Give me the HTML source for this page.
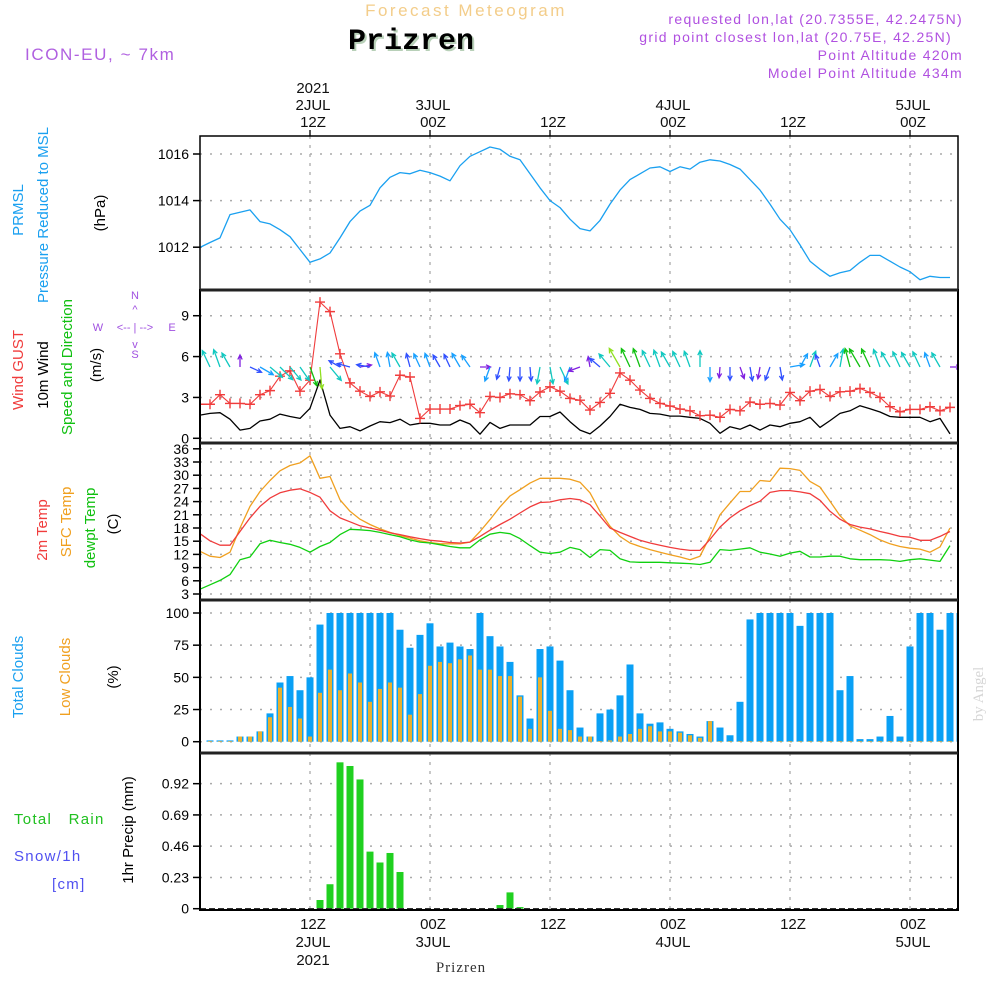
<!DOCTYPE html>
<html><head><meta charset="utf-8"><style>
body{margin:0;background:#fff}
svg{display:block}
text{font-family:"Liberation Sans",sans-serif}
</style></head><body>
<svg id="chart" xmlns="http://www.w3.org/2000/svg" width="1000" height="1000" viewBox="0 0 1000 1000">
<rect width="1000" height="1000" fill="#fff"/>
<text x="466" y="16" text-anchor="middle" font-size="17" fill="#f3cd8a" letter-spacing="2.5">Forecast Meteogram</text>
<text x="413" y="51" text-anchor="middle" font-size="30" font-weight="bold" style="font-family:'Liberation Mono',monospace" fill="#b8d0b8">Prizren</text>
<text x="411" y="49" text-anchor="middle" font-size="30" font-weight="bold" style="font-family:'Liberation Mono',monospace" fill="#000">Prizren</text>
<text x="25" y="60" font-size="17" fill="#b060e0" letter-spacing="1.6">ICON-EU, ~ 7km</text>
<g font-size="14" fill="#b050e0" text-anchor="end" letter-spacing="1.3">
<text x="963" y="24">requested lon,lat (20.7355E, 42.2475N)</text>
<text x="952" y="42">grid point closest lon,lat (20.75E, 42.25N)</text>
<text x="963" y="60">Point Altitude 420m</text>
<text x="963" y="78">Model Point Altitude 434m</text>
</g>
<text transform="translate(983,694) rotate(-90)" text-anchor="middle" font-size="15" style="font-family:'Liberation Serif',serif" fill="#d6d6d6">by Angel</text>
<text x="461" y="972" text-anchor="middle" font-size="15" style="font-family:'Liberation Serif',serif" fill="#333" letter-spacing="1">Prizren</text>
<g id="g"></g>
<g font-size="15" text-anchor="middle">
<text transform="translate(23,210) rotate(-90)" fill="#1aa0f0">PRMSL</text>
<text transform="translate(48,215) rotate(-90)" fill="#1aa0f0">Pressure Reduced to MSL</text>
<text transform="translate(105,213) rotate(-90)" fill="#000">(hPa)</text>
<text transform="translate(23,370) rotate(-90)" fill="#f03c3c">Wind GUST</text>
<text transform="translate(48,375) rotate(-90)" fill="#000">10m Wind</text>
<text transform="translate(72,367) rotate(-90)" fill="#10c010">Speed and Direction</text>
<text transform="translate(101,365) rotate(-90)" fill="#000">(m/s)</text>
<text transform="translate(47,530) rotate(-90)" fill="#f03c3c">2m Temp</text>
<text transform="translate(71,522) rotate(-90)" fill="#f0a020">SFC Temp</text>
<text transform="translate(95,528) rotate(-90)" fill="#10c010">dewpt Temp</text>
<text transform="translate(118,524) rotate(-90)" fill="#000">(C)</text>
<text transform="translate(23,677) rotate(-90)" fill="#1aa0f0">Total Clouds</text>
<text transform="translate(70,677) rotate(-90)" fill="#f0a020">Low Clouds</text>
<text transform="translate(118,677) rotate(-90)" fill="#000">(%)</text>
<text transform="translate(133,830) rotate(-90)" fill="#000">1hr Precip (mm)</text>
</g>
<g font-size="15" letter-spacing="1.3">
<text x="14" y="824" fill="#20c020">Total&#160;&#160;&#160;Rain</text>
<text x="14" y="861" fill="#5050f0">Snow/1h</text>
<text x="52" y="889" fill="#5050f0">[cm]</text>
</g>
<g font-size="11" fill="#a050e0" text-anchor="middle">
<text x="135" y="299">N</text>
<text x="98" y="331">W</text>
<text x="172" y="331">E</text>
<text x="135" y="358">S</text>
<text x="135" y="331">&lt;-- | --&gt;</text>
<text x="135" y="313">^</text>
<text x="135" y="348">v</text>
</g>
</svg>
<script>
// ---------- data ----------
const pressure=[1011.99,1012.2,1012.4,1013.4,1013.5,1013.6,1013.1,1013.0,1012.75,1012.45,1011.9,1011.35,1011.5,1011.75,1012.4,1013.1,1013.55,1013.8,1014.55,1015.0,1015.2,1015.15,1015.3,1015.2,1015.05,1014.85,1015.5,1015.9,1016.1,1016.3,1016.2,1015.9,1015.75,1015.15,1014.55,1014.0,1013.7,1013.2,1012.8,1012.7,1013.15,1013.85,1014.45,1014.9,1015.15,1015.4,1015.45,1015.25,1015.45,1015.35,1015.65,1015.75,1015.7,1015.55,1015.35,1014.9,1014.45,1013.85,1013.2,1012.75,1012.1,1011.4,1011.05,1010.75,1010.9,1011.0,1011.35,1011.65,1011.65,1011.4,1011.15,1010.95,1010.6,1010.75,1010.7,1010.7];
const windSpeed=[1.7,1.83,1.88,1.4,0.6,0.73,1.27,1.4,1.78,1.6,1.46,2.2,4.27,1.7,0.73,0.85,0.54,0.9,1.22,1.15,1.4,0.98,1.1,1.1,0.98,0.98,1.34,1.05,0.3,1.17,0.73,0.98,0.98,0.98,1.6,1.6,1.93,1.22,0.6,0.32,0.9,1.6,2.5,2.27,2.12,1.83,1.78,1.63,1.63,1.54,1.46,1.1,0.37,0.85,0.66,0.98,0.6,0.98,0.85,1.1,1.22,1.54,0.8,1.3,1.83,2.02,2.39,2.17,1.93,1.6,1.54,1.54,1.54,1.22,1.46,0.32];
const windGust=[2.5,2.5,3.2,2.56,2.56,2.5,3.2,3.5,4.56,4.95,3.46,4.27,10.0,9.3,6.2,4.07,3.46,3.07,3.41,3.1,4.63,4.5,1.46,2.15,2.15,2.15,2.4,2.5,1.88,3.07,3.0,3.27,3.2,2.76,3.4,3.78,3.46,2.93,2.8,2.07,2.63,3.3,4.8,4.27,3.54,2.93,2.56,2.37,2.15,2.02,1.66,1.7,1.54,2.12,2.02,2.66,2.5,2.56,2.44,3.37,2.76,3.46,3.59,3.07,3.41,3.46,3.66,3.37,3.0,2.32,1.95,2.12,2.12,2.32,2.02,2.27];
const windDir=[330,335,340,330,0,115,120,130,135,140,145,160,175,140,300,285,80,280,340,350,330,345,335,340,330,335,330,325,90,200,195,185,180,175,190,170,155,200,250,350,310,320,330,335,340,335,340,330,335,340,0,180,185,180,160,170,190,200,170,80,30,20,340,30,10,345,330,335,340,330,335,330,335,340,330,90];
const temp2m=[16.7,15.1,14.1,14.1,17.2,20.3,22.9,24.8,26.0,26.6,26.9,26.1,25.0,21.9,20.3,19.4,18.5,18.0,17.5,16.9,16.5,16.0,15.6,15.2,15.0,14.7,14.6,14.8,16.1,17.5,18.8,20.0,21.4,22.8,23.8,23.9,24.4,24.7,24.4,23.3,20.7,18.0,17.0,16.1,15.2,14.6,14.1,13.6,13.2,12.9,12.9,15.4,18.2,20.3,21.9,23.1,24.1,26.1,26.5,26.5,26.2,25.8,24.3,21.8,20.0,18.8,18.2,17.8,17.2,16.7,16.1,15.9,15.2,15.2,16.1,17.2];
const tempSfc=[12.7,11.6,11.3,12.5,18.0,22.9,26.3,28.8,31.0,32.2,32.8,34.4,29.3,29.7,24.4,21.8,20.0,18.8,17.8,17.0,16.3,15.7,15.1,14.7,14.4,14.4,14.4,14.8,17.2,19.9,22.8,25.3,26.7,28.2,29.3,29.3,29.3,29.1,28.4,26.0,21.8,18.4,16.1,14.6,13.8,13.1,12.5,11.9,11.4,10.8,11.6,16.1,21.0,23.7,26.3,26.3,28.8,28.6,31.6,31.5,31.1,28.6,27.3,24.1,20.8,18.5,17.5,16.5,15.3,14.4,13.8,13.4,13.2,12.5,13.7,18.0];
const dewpt=[4.1,5.1,6.1,7.4,10.8,11.4,14.4,15.2,14.7,14.3,13.6,12.5,13.8,14.7,16.5,17.7,17.6,17.4,17.0,16.5,16.0,15.3,14.8,14.6,14.2,13.8,13.5,13.5,15.3,16.6,17.0,16.7,15.6,14.0,12.5,12.2,12.5,13.6,13.1,11.3,13.1,12.9,11.0,10.3,10.2,10.2,10.2,10.1,10.0,9.9,9.7,10.2,13.1,12.9,13.2,13.5,12.5,12.1,11.6,12.3,12.7,11.4,11.4,11.6,11.6,11.0,10.8,10.8,10.8,10.7,10.4,10.8,11.0,10.7,10.4,14.0];
const totalClouds=[1,1,1,4,4,8,22,46,51,40,50,91,100,100,100,100,100,100,100,87,73,83,92,74,77,74,72,100,82,74,62,36,18,72,74,63,40,11,4,22,25,36,60,22,14,15,10,8,6,4,16,11,5,31,95,100,100,100,100,90,100,100,100,40,51,2,2,4,20,4,74,100,100,87,100,100];
const lowClouds=[0.5,0.5,0.5,4,4,8,19,42,27,18,4,38,56,40,53,46,31,41,46,42,21,37,59,62,61,64,67,56,56,51,51,35,10,50,24,10,9,4,4,0.5,1,4,6,10,12,8,8,7,5,3,16,0.5,0.5,0.5,0.5,0.5,0.5,0.5,0.5,0.5,0.5,0.5,0.5,0.5,0.5,0.5,0.5,0.5,0.5,0.5,0.5,0.5,0.5,0.5,0.5,0.5];
const precip=[0,0,0,0,0,0,0,0,0,0,0,0,0.064,0.18,1.077,1.05,0.951,0.42,0.34,0.41,0.27,0,0,0,0,0,0,0,0,0,0.027,0.12,0.012,0,0,0,0,0,0,0,0,0,0,0,0,0,0,0,0,0,0,0,0,0,0,0,0,0,0,0,0,0,0,0,0,0,0,0,0,0,0,0,0,0,0,0];
const pressTicks=[1012,1014,1016];
const windTicks=[0,3,6,9];
const tempTicks=[3,6,9,12,15,18,21,24,27,30,33,36];
const cloudTicks=[0,25,50,75,100];
const precipTicks=[0,0.23,0.46,0.69,0.92];
const timeHours=[12,24,36,48,60,72];
const topLabels=[["2021","2JUL","12Z"],["","3JUL","00Z"],["","","12Z"],["","4JUL","00Z"],["","","12Z"],["","5JUL","00Z"]];
const bottomLabels=[["12Z","2JUL","2021"],["00Z","3JUL",""],["12Z","",""],["00Z","4JUL",""],["12Z","",""],["00Z","5JUL",""]];

// ---------- scales ----------
const L=200,R=958;
const X=t=>310+(t-12)*10;
const yP=v=>154-(v-1016)*23.3;
const yW=v=>438.3-v*13.62;
const yT=v=>594-(v-3)*4.4;
const yC=v=>741.7-v*1.287;
const yR=v=>908.7-v*135.9;
const panels=[[136,290],[290,443],[443,600],[600,753],[753,910]];

const NS="http://www.w3.org/2000/svg";
const g=document.getElementById('g');
function mk(tag,attrs,parent){const e=document.createElementNS(NS,tag);for(const k in attrs)e.setAttribute(k,attrs[k]);(parent||g).appendChild(e);return e;}

const defs=mk('defs',{});
const cp=mk('clipPath',{id:'clip'},defs);
mk('rect',{x:L,y:136,width:R-L,height:774},cp);

const grid=mk('g',{});


function hgrid(vals,ys){vals.forEach(v=>{const y=ys(v);const l=mk('line',{x1:L,x2:R,y1:y,y2:y,stroke:'#aaa','stroke-width':1.5,'stroke-dasharray':'2 8'},grid);

});}
hgrid(pressTicks,yP);hgrid(windTicks,yW);hgrid(tempTicks,yT);hgrid(cloudTicks,yC);hgrid(precipTicks.slice(1),yR);
panels.forEach(p=>timeHours.forEach(h=>{const l=mk('line',{x1:X(h),x2:X(h),y1:p[0],y2:p[1],stroke:'#aaa','stroke-width':1.3,'stroke-dasharray':'3 6'},grid);

}));

function yTicks(vals,ys,fmt,name){const gg=mk('g',{'font-size':14,'text-anchor':'end',fill:'#000'});


vals.forEach(v=>{const y=ys(v);const t=mk('text',{x:189,y:y+5},gg);t.textContent=fmt(v);


mk('line',{x1:193,x2:L,y1:y,y2:y,stroke:'#000','stroke-width':1.5},gg);});}
yTicks(pressTicks,yP,v=>v,'pressure-y-axis');
yTicks(windTicks,yW,v=>v,'wind-y-axis');
yTicks(tempTicks,yT,v=>v,'temp-y-axis');
yTicks(cloudTicks,yC,v=>v,'cloud-y-axis');
yTicks(precipTicks,yR,v=>v===0?'0':v.toFixed(2),'precip-y-axis');

const ta=mk('g',{'font-size':15,'text-anchor':'middle',fill:'#111'});


timeHours.forEach((h,i)=>{const x=X(h)+3;
 topLabels[i].forEach((s,j)=>{if(!s)return;const t=mk('text',{x:x,y:93+j*17},ta);t.textContent=s;
 
 });
 mk('line',{x1:X(h),x2:X(h),y1:130,y2:136,stroke:'#000','stroke-width':1.3},ta);
 bottomLabels[i].forEach((s,j)=>{if(!s)return;const t=mk('text',{x:x,y:929+j*18},ta);t.textContent=s;
 
 });});

const sg=mk('g',{'clip-path':'url(#clip)'});


function line(arr,ys,color,name,w){const d=arr.map((v,i)=>(i?'L':'M')+X(i+1).toFixed(1)+' '+ys(v).toFixed(1)).join(' ');
const p=mk('path',{d:d,fill:'none',stroke:color,'stroke-width':w||1.3,'stroke-linejoin':'round'},sg);

return p;}

line(pressure,yP,'#1aa0f0','pressure-line');
line(windSpeed,yW,'#000','wind-speed-line');
line(windGust,yW,'#f03c3c','wind-gust-line',1.1);
const gm=mk('g',{stroke:'#f03c3c','stroke-width':1.4},sg);


windGust.forEach((v,i)=>{const x=X(i+1),y=yW(v);
 const p=mk('path',{d:`M${x-5} ${y}H${x+5}M${x} ${y-5}V${y+5}`},gm);
 
 });

function wcol(s){return s<0.7?'#8020e0':s<1.0?'#3050ff':s<1.4?'#18a0ff':s<2.0?'#10c8c0':s<2.4?'#10c010':'#90e020';}
const wa=mk('g',{},sg);


windDir.forEach((dir,i)=>{const x=X(i+1),y=367,s=windSpeed[i];const len=9+Math.min(s,2.6)*5;
 const a=dir*Math.PI/180;const ex=x+Math.sin(a)*len,ey=y-Math.cos(a)*len;
 const h1=a+Math.PI-0.45,h2=a+Math.PI+0.45;
 const p=mk('path',{d:`M${x} ${y}L${ex.toFixed(1)} ${ey.toFixed(1)}M${(ex+Math.sin(h1)*5).toFixed(1)} ${(ey-Math.cos(h1)*5).toFixed(1)}L${ex.toFixed(1)} ${ey.toFixed(1)}L${(ex+Math.sin(h2)*5).toFixed(1)} ${(ey-Math.cos(h2)*5).toFixed(1)}`,stroke:wcol(s),'stroke-width':1.3,fill:'none'},wa);
 
 });

line(tempSfc,yT,'#f0a020','sfc-temp-line');
line(temp2m,yT,'#f03c3c','temp-2m-line');
line(dewpt,yT,'#10d010','dewpt-line');

const cg=mk('g',{},sg);


totalClouds.forEach((v,i)=>{const x=X(i+2);
 const b=mk('rect',{x:x-3.5,y:yC(v),width:7,height:yC(0)-yC(v),fill:'#0aa0f5'},cg);
 
 
 const lv=lowClouds[i];
 const o=mk('rect',{x:x-2,y:yC(lv),width:4,height:yC(0)-yC(lv),fill:'#e8b030'},cg);
 
 });

const pg=mk('g',{},sg);


precip.forEach((v,i)=>{if(v<=0)return;const x=X(i+1);
 const b=mk('rect',{x:x-3.5,y:yR(v),width:7,height:yR(0)-yR(v),fill:'#20d020'},pg);
 
 });
const base=mk('line',{x1:L,x2:R,y1:yR(0),y2:yR(0),stroke:'#333','stroke-width':1.5,'stroke-dasharray':'6 3'},sg);



panels.forEach((p,i)=>{const r=mk('rect',{x:L,y:p[0],width:R-L,height:p[1]-p[0],fill:'none',stroke:'#000','stroke-width':i===0?1.5:2});
 
 });
[290,443,600,753].forEach(y=>{const l=mk('line',{x1:L,x2:R,y1:y,y2:y,stroke:'#222','stroke-width':3});
 
 });
</script>
</body></html>
